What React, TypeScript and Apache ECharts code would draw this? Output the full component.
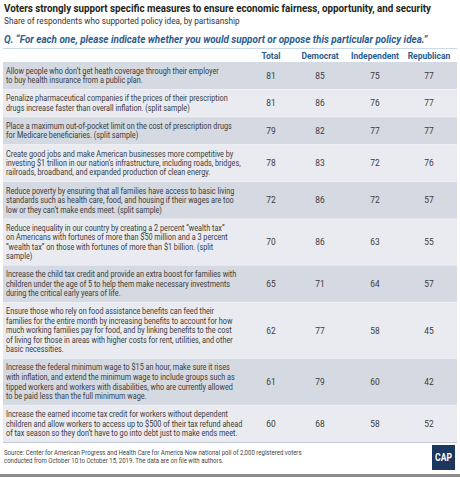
import React, { useEffect, useRef } from 'react';
import * as echarts from 'echarts';

const TITLE = 'Voters strongly support specific measures to ensure economic fairness, opportunity, and security';
const SUBTITLE = 'Share of respondents who supported policy idea, by partisanship';
const QUESTION = 'Q. \u201cFor each one, please indicate whether you would support or oppose this particular policy idea.\u201d';
const SOURCE = [
  'Source: Center for American Progress and Health Care for America Now national poll of 2,000 registered voters',
  'conducted from October 10 to October 15, 2019. The data are on file with authors.',
];

const columns = ['Total', 'Democrat', 'Independent', 'Republican'];

const policies = [
  'Allow people who don\u2019t get heath coverage through their employer\nto buy health insurance from a public plan.',
  'Penalize pharmaceutical companies if the prices of their prescription\ndrugs increase faster than overall inflation. (split sample)',
  'Place a maximum out-of-pocket limit on the cost of prescription drugs\nfor Medicare beneficiaries. (split sample)',
  'Create good jobs and make American businesses more competitive by\ninvesting $1 trillion in our nation\u2019s infrastructure, including roads, bridges,\nrailroads, broadband, and expanded production of clean energy.',
  'Reduce poverty by ensuring that all families have access to basic living\nstandards such as health care, food, and housing if their wages are too\nlow or they can\u2019t make ends meet. (split sample)',
  'Reduce inequality in our country by creating a 2 percent \u201cwealth tax\u201d\non Americans with fortunes of more than $50 million and a 3 percent\n\u201cwealth tax\u201d on those with fortunes of more than $1 billion. (split\nsample)',
  'Increase the child tax credit and provide an extra boost for families with\nchildren under the age of 5 to help them make necessary investments\nduring the critical early years of life.',
  'Ensure those who rely on food assistance benefits can feed their\nfamilies for the entire month by increasing benefits to account for how\nmuch working families pay for food, and by linking benefits to the cost\nof living for those in areas with higher costs for rent, utilities, and other\nbasic necessities.',
  'Increase the federal minimum wage to $15 an hour, make sure it rises\nwith inflation, and extend the minimum wage to include groups such as\ntipped workers and workers with disabilities, who are currently allowed\nto be paid less than the full minimum wage.',
  'Increase the earned income tax credit for workers without dependent\nchildren and allow workers to access up to $500 of their tax refund ahead\nof tax season so they don\u2019t have to go into debt just to make ends meet.',
];

const total = [81, 81, 79, 78, 72, 70, 65, 62, 61, 60];
const democrat = [85, 86, 82, 83, 86, 86, 71, 77, 79, 68];
const independent = [75, 76, 77, 72, 72, 63, 64, 58, 60, 58];
const republican = [77, 77, 77, 76, 57, 55, 57, 45, 42, 52];

// layout
const W = 460;
const H = 477;
const FONT = 'Roboto, "Noto Sans", sans-serif';
const TABLE_LEFT = 3;
const TABLE_RIGHT = 457;
const TABLE_TOP = 62;
const LINE_H = 9.5;
const ROW_PAD = 8.6;
const COL_X = [271, 320, 375, 429];
const BLUE = '#2b5d8e';
const TEXT = '#3b3b3b';
const DARK = '#d5d9e1';
const LIGHT = '#e9ebf0';

let ctx: CanvasRenderingContext2D | null = null;
function measure(text: string, font: string): number {
  if (!ctx) ctx = document.createElement('canvas').getContext('2d');
  if (!ctx) return text.length * 5;
  ctx.font = font;
  return ctx.measureText(text).width;
}
function fitScale(text: string, font: string, target: number): number {
  const w = measure(text, font);
  return w > 0 ? target / w : 1;
}

export default function App() {
  const ref = useRef<HTMLDivElement>(null);
  useEffect(() => {
    if (!ref.current) return;
    const chart = echarts.init(ref.current, null, { renderer: 'svg' });

    const bodyFont = `8.2px ${FONT}`;
    const bodyScale = fitScale(
      'children and allow workers to access up to $500 of their tax refund ahead',
      bodyFont,
      236
    );

    let acc = 0;
    const rows = policies.map((p, i) => {
      const lines = p.split('\n').length;
      const h = ROW_PAD + LINE_H * lines;
      const start = acc;
      acc += h;
      return [start, acc, total[i], democrat[i], independent[i], republican[i], i];
    });
    const tableH = acc;
    const last = policies.length - 1;

    const titleFont = `bold 11.5px ${FONT}`;
    const subFont = `9px ${FONT}`;
    const qFont = `italic bold 10px ${FONT}`;
    const headFont = `bold 8.8px ${FONT}`;
    const srcFont = `6.4px ${FONT}`;
    const headScale = fitScale('Independent', headFont, 48);

    const option: any = {
      animation: false,
      grid: { left: 0, right: 0, top: TABLE_TOP, height: tableH },
      xAxis: { type: 'value', min: 0, max: W, show: false },
      yAxis: { type: 'value', min: 0, max: tableH, inverse: true, show: false },
      series: [
        {
          type: 'custom',
          clip: false,
          data: rows,
          renderItem: (params: any, api: any) => {
            const i = api.value(6);
            const tl = api.coord([TABLE_LEFT, api.value(0)]);
            const br = api.coord([TABLE_RIGHT, api.value(1)]);
            const midY = (tl[1] + br[1]) / 2;
            const vals = [api.value(2), api.value(3), api.value(4), api.value(5)];
            const children: any[] = [
              {
                type: 'rect',
                shape: { x: tl[0], y: tl[1], width: br[0] - tl[0], height: br[1] - tl[1] },
                style: { fill: i % 2 === 0 ? DARK : LIGHT },
              },
              {
                type: 'line',
                shape: { x1: tl[0], y1: br[1], x2: br[0], y2: br[1] },
                style: { stroke: i === last ? '#c2cad6' : '#f4f5f8', lineWidth: 1 },
              },
              {
                type: 'text',
                x: tl[0] + 3,
                y: midY,
                scaleX: bodyScale,
                style: {
                  text: policies[i],
                  font: bodyFont,
                  fill: TEXT,
                  align: 'left',
                  verticalAlign: 'middle',
                  lineHeight: LINE_H,
                },
              },
            ];
            vals.forEach((v, k) => {
              const p = api.coord([COL_X[k], api.value(0)]);
              children.push({
                type: 'text',
                x: p[0],
                y: midY,
                style: {
                  text: String(v),
                  font: `8.4px ${FONT}`,
                  fill: TEXT,
                  align: 'center',
                  verticalAlign: 'middle',
                },
              });
            });
            return { type: 'group', children };
          },
        },
      ],
      graphic: [
        {
          type: 'text',
          x: 4,
          y: 8.5,
          scaleX: fitScale(TITLE, titleFont, 428),
          style: { text: TITLE, font: titleFont, fill: '#231f20', verticalAlign: 'middle' },
        },
        {
          type: 'text',
          x: 4,
          y: 21,
          scaleX: fitScale(SUBTITLE, subFont, 236),
          style: { text: SUBTITLE, font: subFont, fill: '#333333', verticalAlign: 'middle' },
        },
        {
          type: 'text',
          x: 4,
          y: 39,
          scaleX: fitScale(QUESTION, qFont, 424),
          style: { text: QUESTION, font: qFont, fill: BLUE, verticalAlign: 'middle' },
        },
        {
          type: 'line',
          shape: { x1: 3, y1: 48.5, x2: 457, y2: 48.5 },
          style: { stroke: '#c9dbea', lineWidth: 1 },
        },
        ...columns.map((c, k) => ({
          type: 'text',
          x: COL_X[k],
          y: 55.5,
          scaleX: headScale,
          style: { text: c, font: headFont, fill: BLUE, align: 'center', verticalAlign: 'middle' },
        })),
        ...SOURCE.map((s, k) => ({
          type: 'text',
          x: 4,
          y: 453 + k * 8,
          scaleX: fitScale(SOURCE[0], srcFont, 298),
          style: { text: s, font: srcFont, fill: '#444444', verticalAlign: 'middle' },
        })),
        {
          type: 'rect',
          shape: { x: 432, y: 445, width: 23, height: 25 },
          style: { fill: '#1c3760' },
        },
        {
          type: 'text',
          x: 443.5,
          y: 457.5,
          scaleX: 0.78,
          style: {
            text: 'CAP',
            font: `bold 11px ${FONT}`,
            fill: '#ffffff',
            align: 'center',
            verticalAlign: 'middle',
          },
        },
        {
          type: 'rect',
          shape: { x: 0, y: 474, width: W, height: 3 },
          style: { fill: '#8e8e8e' },
        },
      ],
    };
    chart.setOption(option);
    return () => chart.dispose();
  }, []);
  return (
    <div
      ref={ref}
      style={{ position: 'absolute', left: 0, top: 0, width: W, height: H }}
    />
  );
}
